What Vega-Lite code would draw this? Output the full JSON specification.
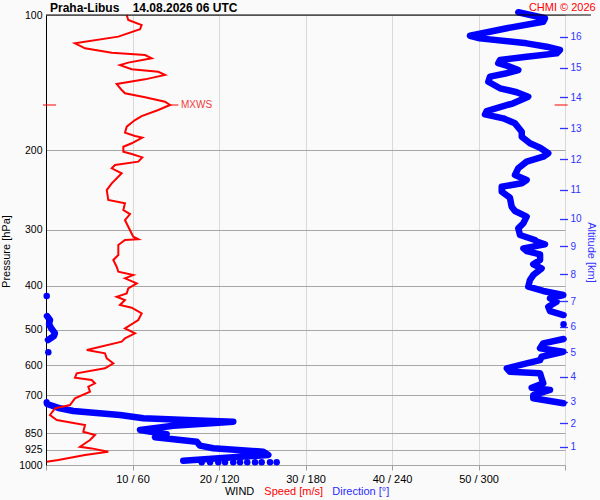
{
  "$schema": "https://vega.github.io/schema/vega-lite/v6.json",
  "width": 519,
  "height": 450,
  "autosize": {"type": "none"},
  "padding": {"left": 46, "top": 15, "right": 35, "bottom": 35},
  "background": "#fafafa",
  "config": {
    "view": {"stroke": null},
    "font": "Liberation Sans",
    "axis": {"labelFont": "Liberation Sans", "titleFont": "Liberation Sans"},
    "text": {"font": "Liberation Sans"}
  },
  "datasets": {
    "speed": [
      {"p": 100, "s": 9.33}, {"p": 102.6, "s": 9.51}, {"p": 105.3, "s": 11.06}, {"p": 107.6, "s": 10.87},
      {"p": 111.7, "s": 8.36}, {"p": 115.6, "s": 3.35}, {"p": 118.6, "s": 4.51}, {"p": 121.3, "s": 7.6},
      {"p": 122.7, "s": 11.45}, {"p": 124.8, "s": 12.22}, {"p": 127.6, "s": 9.51}, {"p": 129.2, "s": 8.55},
      {"p": 132, "s": 9.91}, {"p": 133.7, "s": 12.98}, {"p": 135.9, "s": 13.76}, {"p": 139, "s": 11.45},
      {"p": 142.3, "s": 8.17}, {"p": 146.8, "s": 8.75}, {"p": 149.3, "s": 9.13}, {"p": 152.4, "s": 11.45},
      {"p": 155.9, "s": 13.76}, {"p": 158.5, "s": 14.34}, {"p": 162.6, "s": 12.98}, {"p": 167.7, "s": 11.06},
      {"p": 171.2, "s": 10.29}, {"p": 177.1, "s": 9.33}, {"p": 182.6, "s": 9.13}, {"p": 185.7, "s": 10.29},
      {"p": 187.3, "s": 11.13}, {"p": 192.8, "s": 9.91}, {"p": 196.2, "s": 8.94}, {"p": 201.3, "s": 8.94},
      {"p": 203.7, "s": 9.91}, {"p": 207.2, "s": 11.13}, {"p": 211.8, "s": 10.67}, {"p": 215.4, "s": 7.98},
      {"p": 219.1, "s": 7.6}, {"p": 224.8, "s": 8.75}, {"p": 236.6, "s": 7.6}, {"p": 244.9, "s": 7.02},
      {"p": 257.7, "s": 7.2}, {"p": 262.1, "s": 9.13}, {"p": 271.3, "s": 8.94}, {"p": 276.9, "s": 9.71},
      {"p": 285.5, "s": 9.13}, {"p": 295.4, "s": 9.51}, {"p": 311, "s": 10.09}, {"p": 315.1, "s": 10.67},
      {"p": 316.2, "s": 9.13}, {"p": 324.4, "s": 8.36}, {"p": 341.5, "s": 8.36}, {"p": 350.4, "s": 7.78},
      {"p": 362.6, "s": 8.17}, {"p": 372, "s": 8.36}, {"p": 378.4, "s": 10.09}, {"p": 384.8, "s": 9.13},
      {"p": 394.8, "s": 10.49}, {"p": 405, "s": 9.51}, {"p": 415.5, "s": 9.33}, {"p": 422.7, "s": 8.17},
      {"p": 429.9, "s": 9.13}, {"p": 441.1, "s": 8.55}, {"p": 447.2, "s": 9.91}, {"p": 460.2, "s": 11.06},
      {"p": 476.3, "s": 10.67}, {"p": 496.9, "s": 9.13}, {"p": 509.8, "s": 10.29}, {"p": 523, "s": 9.13},
      {"p": 532.1, "s": 8.75}, {"p": 555.2, "s": 4.71}, {"p": 564.7, "s": 6.82}, {"p": 579.4, "s": 7.02},
      {"p": 594.3, "s": 7.78}, {"p": 609.7, "s": 6.82}, {"p": 625.5, "s": 3.55}, {"p": 639.8, "s": 3.35},
      {"p": 647.4, "s": 5.28}, {"p": 658.4, "s": 5.66}, {"p": 669.9, "s": 4.89}, {"p": 687.3, "s": 5.09},
      {"p": 710.9, "s": 3.35}, {"p": 735.6, "s": 2.77}, {"p": 748.2, "s": 1.04}, {"p": 774.3, "s": 0.46},
      {"p": 794.3, "s": 1.24}, {"p": 814.9, "s": 4.51}, {"p": 843.3, "s": 4.31}, {"p": 857.7, "s": 5.66},
      {"p": 880, "s": 5.09}, {"p": 910.9, "s": 3.93}, {"p": 918.5, "s": 5.28}, {"p": 934.2, "s": 7.2},
      {"p": 950.2, "s": 4.51}, {"p": 974.8, "s": 1.42}, {"p": 983.3, "s": 0.08}
    ],
    "dirline": [
      {"seg": "A", "p": 98.6, "dir": 327.6}, {"seg": "A", "p": 101.7, "dir": 346.1}, {"seg": "A", "p": 103.5, "dir": 344.9},
      {"seg": "A", "p": 107, "dir": 319.6}, {"seg": "A", "p": 111.2, "dir": 294.1}, {"seg": "A", "p": 112.7, "dir": 301},
      {"seg": "A", "p": 115.6, "dir": 333.4}, {"seg": "A", "p": 117.6, "dir": 347.3}, {"seg": "A", "p": 119.6, "dir": 356.5},
      {"seg": "A", "p": 121.7, "dir": 354.2}, {"seg": "A", "p": 123.8, "dir": 333.4}, {"seg": "A", "p": 125.9, "dir": 314.9},
      {"seg": "A", "p": 128, "dir": 313.7}, {"seg": "A", "p": 130.3, "dir": 321.8}, {"seg": "A", "p": 132.5, "dir": 327.6},
      {"seg": "A", "p": 134.7, "dir": 319.6}, {"seg": "A", "p": 137.1, "dir": 308}, {"seg": "A", "p": 140.7, "dir": 306.8},
      {"seg": "A", "p": 145.5, "dir": 314.9}, {"seg": "A", "p": 148.5, "dir": 326.5}, {"seg": "A", "p": 151.9, "dir": 334.5},
      {"seg": "A", "p": 157.1, "dir": 324.1}, {"seg": "A", "p": 163.5, "dir": 305.7}, {"seg": "A", "p": 166.3, "dir": 304.5},
      {"seg": "A", "p": 169.7, "dir": 317.2}, {"seg": "A", "p": 174.1, "dir": 325.3}, {"seg": "A", "p": 181.7, "dir": 330},
      {"seg": "A", "p": 186.4, "dir": 330}, {"seg": "A", "p": 192.8, "dir": 335.7}, {"seg": "A", "p": 197.2, "dir": 342.7},
      {"seg": "A", "p": 202.9, "dir": 348.4}, {"seg": "A", "p": 206.5, "dir": 344.9}, {"seg": "A", "p": 211.8, "dir": 333.4},
      {"seg": "A", "p": 219.1, "dir": 327.6}, {"seg": "A", "p": 226.7, "dir": 325.3}, {"seg": "A", "p": 232.6, "dir": 333.4},
      {"seg": "A", "p": 236.6, "dir": 330}, {"seg": "A", "p": 240.8, "dir": 316.1}, {"seg": "A", "p": 247, "dir": 316.1},
      {"seg": "A", "p": 254.7, "dir": 321.8}, {"seg": "A", "p": 266.7, "dir": 323}, {"seg": "A", "p": 272.6, "dir": 325.3},
      {"seg": "A", "p": 280.6, "dir": 333.4}, {"seg": "A", "p": 290.3, "dir": 331.1}, {"seg": "A", "p": 297.9, "dir": 327.6},
      {"seg": "A", "p": 308.2, "dir": 328.8}, {"seg": "A", "p": 316.2, "dir": 339.2}, {"seg": "A", "p": 319, "dir": 340.4},
      {"seg": "A", "p": 323.3, "dir": 346.1}, {"seg": "A", "p": 330, "dir": 331.1}, {"seg": "A", "p": 334.6, "dir": 333.4},
      {"seg": "A", "p": 340.3, "dir": 342.7}, {"seg": "A", "p": 350.4, "dir": 342.7}, {"seg": "A", "p": 358.1, "dir": 338},
      {"seg": "A", "p": 365.6, "dir": 343.8}, {"seg": "A", "p": 378.4, "dir": 338}, {"seg": "A", "p": 388.1, "dir": 335.7},
      {"seg": "A", "p": 401.6, "dir": 334.5}, {"seg": "A", "p": 410.5, "dir": 344.9}, {"seg": "A", "p": 419, "dir": 358.8},
      {"seg": "A", "p": 426.3, "dir": 349.6}, {"seg": "A", "p": 433.6, "dir": 354.2}, {"seg": "A", "p": 444.8, "dir": 348.4},
      {"seg": "A", "p": 454.8, "dir": 349.6}, {"seg": "A", "p": 464.2, "dir": 359},
      {"seg": "L", "p": 466.7, "dir": 0.7}, {"seg": "L", "p": 476.3, "dir": 2.8}, {"seg": "L", "p": 486.2, "dir": 2.1},
      {"seg": "L", "p": 496.1, "dir": 3.5}, {"seg": "L", "p": 509.2, "dir": 6.2}, {"seg": "L", "p": 516.9, "dir": 5.5},
      {"seg": "L", "p": 527.6, "dir": 1.4},
      {"seg": "B", "p": 524.8, "dir": 359}, {"seg": "B", "p": 536.5, "dir": 344.9}, {"seg": "B", "p": 550.4, "dir": 342.7},
      {"seg": "B", "p": 560.1, "dir": 358.8}, {"seg": "B", "p": 574.6, "dir": 343.8}, {"seg": "B", "p": 584.5, "dir": 342.7},
      {"seg": "B", "p": 594.3, "dir": 333.4}, {"seg": "B", "p": 609.7, "dir": 319.6}, {"seg": "B", "p": 620.4, "dir": 321.8},
      {"seg": "B", "p": 625.5, "dir": 342.7}, {"seg": "B", "p": 642, "dir": 343.8}, {"seg": "B", "p": 658.4, "dir": 344.9},
      {"seg": "B", "p": 673.4, "dir": 336.9}, {"seg": "B", "p": 681.3, "dir": 349.6}, {"seg": "B", "p": 699, "dir": 338},
      {"seg": "B", "p": 710.9, "dir": 338}, {"seg": "B", "p": 729.3, "dir": 359},
      {"seg": "C", "p": 725.6, "dir": 0.5}, {"seg": "C", "p": 731.8, "dir": 0.7}, {"seg": "C", "p": 748.2, "dir": 9.7},
      {"seg": "C", "p": 758.6, "dir": 18.9}, {"seg": "C", "p": 774.3, "dir": 51.3}, {"seg": "C", "p": 787.6, "dir": 67.5},
      {"seg": "C", "p": 794.3, "dir": 97.6}, {"seg": "C", "p": 801.2, "dir": 129.9}, {"seg": "C", "p": 817.8, "dir": 88.3},
      {"seg": "C", "p": 835.8, "dir": 65.2}, {"seg": "C", "p": 854.5, "dir": 83.7}, {"seg": "C", "p": 867.6, "dir": 75.6},
      {"seg": "C", "p": 887.4, "dir": 104.5}, {"seg": "C", "p": 905.8, "dir": 106.8}, {"seg": "C", "p": 918, "dir": 116},
      {"seg": "C", "p": 934.2, "dir": 150.7}, {"seg": "C", "p": 950.2, "dir": 154.2}, {"seg": "C", "p": 958.5, "dir": 134.6},
      {"seg": "C", "p": 978.1, "dir": 95.2}
    ],
    "dirpts": [
      {"p": 486.8, "dir": 359}, {"p": 421.2, "dir": 0.5}, {"p": 561.8, "dir": 1.6},
      {"p": 986.3, "dir": 108}, {"p": 986.3, "dir": 113.8}, {"p": 986.3, "dir": 119.5}, {"p": 986.3, "dir": 124.2},
      {"p": 986.3, "dir": 129.9}, {"p": 986.3, "dir": 134.6}, {"p": 986.3, "dir": 139.6}, {"p": 986.3, "dir": 145},
      {"p": 986.3, "dir": 149.6}, {"p": 986.3, "dir": 155.4}, {"p": 986.3, "dir": 160}
    ],
    "mxws": [{"p": 158.5, "s": 14.34}],
    "one": [{}]
  },
  "layer": [
    {
      "layer": [
        {
          "data": {"name": "dirline"},
          "mark": {"type": "line", "color": "#0000ff", "strokeWidth": 6.5, "strokeCap": "round", "strokeJoin": "round"},
          "encoding": {
            "x": {"field": "dir", "type": "quantitative", "scale": {"domain": [0, 360], "nice": false, "zero": false}, "axis": null},
            "y": {
              "field": "p", "type": "quantitative",
              "scale": {"type": "log", "domain": [100, 1000], "reverse": true, "nice": false, "zero": false},
              "axis": {
                "orient": "right",
                "values": [910.7, 807.7, 723.2, 636.6, 561.8, 492.9, 432.1, 376.9, 326.9, 283.3, 244.5, 209.4, 178.5, 152.5, 130.9, 111.7],
                "labelExpr": "indexof([910.7, 807.7, 723.2, 636.6, 561.8, 492.9, 432.1, 376.9, 326.9, 283.3, 244.5, 209.4, 178.5, 152.5, 130.9, 111.7], datum.value) + 1",
                "grid": false,
                "domain": false,
                "offset": -5.5,
                "tickSize": 8,
                "tickColor": "#3333ff",
                "tickWidth": 1.3,
                "labelColor": "#3333ff",
                "labelFontSize": 10,
                "labelPadding": 2.5,
                "title": "Altitude [km]",
                "titleColor": "#3333ff",
                "titleFontSize": 11,
                "titleFontWeight": "normal",
                "titlePadding": 4,
                "titleY": 237
              }
            },
            "detail": {"field": "seg", "type": "nominal"},
            "order": {"field": "p", "type": "quantitative"}
          }
        },
        {
          "data": {"name": "dirpts"},
          "mark": {"type": "circle", "color": "#0000ff", "opacity": 1, "size": 42},
          "encoding": {
            "x": {"field": "dir", "type": "quantitative"},
            "y": {"field": "p", "type": "quantitative"}
          }
        }
      ]
    },
    {
      "layer": [
        {
          "data": {"name": "speed"},
          "mark": {"type": "line", "color": "#ff0000", "strokeWidth": 2},
          "encoding": {
            "x": {
              "field": "s", "type": "quantitative",
              "scale": {"domain": [0, 60], "nice": false, "zero": false},
              "axis": {
                "orient": "bottom",
                "values": [0, 10, 20, 30, 40, 50, 60],
                "labelExpr": "datum.value == 0 || datum.value == 60 ? '' : datum.value + ' / ' + (datum.value * 6)",
                "grid": true,
                "gridColor": "#d9d9d9",
                "domain": false,
                "tickColor": "#a0a0a0",
                "tickSize": 5,
                "labelFontSize": 11,
                "labelColor": "#000000",
                "labelPadding": 3,
                "title": null
              }
            },
            "y": {
              "field": "p", "type": "quantitative",
              "scale": {"type": "log", "domain": [100, 1000], "reverse": true, "nice": false, "zero": false},
              "axis": {
                "orient": "left",
                "values": [100, 200, 300, 400, 500, 600, 700, 850, 925, 1000],
                "format": "d",
                "grid": true,
                "gridColor": "#a6a6a6",
                "ticks": false,
                "domain": true,
                "domainColor": "#000000",
                "labelFontSize": 10.5,
                "labelColor": "#000000",
                "labelPadding": 4,
                "title": "Pressure [hPa]",
                "titleColor": "#000000",
                "titleFontSize": 11,
                "titleFontWeight": "normal",
                "titlePadding": 7,
                "titleY": 236
              }
            },
            "order": {"field": "p", "type": "quantitative"}
          }
        },
        {
          "data": {"name": "one"},
          "mark": {"type": "rule", "color": "#000000", "strokeWidth": 1},
          "encoding": {"x": {"datum": 0}, "x2": {"datum": 63}, "y": {"datum": 100}}
        },
        {
          "data": {"name": "mxws"},
          "mark": {"type": "rule", "color": "#ff0000", "strokeWidth": 1},
          "encoding": {"x": {"field": "s", "type": "quantitative"}, "x2": {"datum": 15.3}, "y": {"field": "p", "type": "quantitative"}}
        },
        {
          "data": {"name": "mxws"},
          "mark": {"type": "rule", "color": "#ff0000", "strokeWidth": 1},
          "encoding": {"x": {"datum": -0.35}, "x2": {"datum": 1.16}, "y": {"field": "p", "type": "quantitative"}}
        },
        {
          "data": {"name": "mxws"},
          "mark": {"type": "rule", "color": "#ff0000", "strokeWidth": 1},
          "encoding": {"x": {"datum": 58.8}, "x2": {"datum": 60.3}, "y": {"field": "p", "type": "quantitative"}}
        },
        {
          "data": {"name": "mxws"},
          "mark": {"type": "text", "text": "MXWS", "color": "#f03c3c", "fontSize": 10, "align": "left", "baseline": "middle"},
          "encoding": {"x": {"datum": 15.6}, "y": {"field": "p", "type": "quantitative"}}
        },
        {
          "data": {"name": "one"},
          "mark": {"type": "text", "text": "Praha-Libus\u00a0\u00a0\u00a0\u00a014.08.2026 06 UTC", "color": "#000000", "fontSize": 12, "fontWeight": "bold", "align": "left", "baseline": "alphabetic"},
          "encoding": {"x": {"datum": 0.46}, "y": {"datum": 98.3}}
        },
        {
          "data": {"name": "one"},
          "mark": {"type": "text", "text": "CHMI © 2026", "color": "#ff0000", "fontSize": 11, "align": "right", "baseline": "alphabetic"},
          "encoding": {"x": {"datum": 63.55}, "y": {"datum": 97.97}}
        },
        {
          "data": {"name": "one"},
          "mark": {"type": "text", "text": "WIND", "color": "#000000", "fontSize": 11, "align": "left", "baseline": "alphabetic"},
          "encoding": {"x": {"datum": 20.69}, "y": {"datum": 1163}}
        },
        {
          "data": {"name": "one"},
          "mark": {"type": "text", "text": "Speed [m/s]", "color": "#ff0000", "fontSize": 11, "align": "left", "baseline": "alphabetic"},
          "encoding": {"x": {"datum": 25.24}, "y": {"datum": 1163}}
        },
        {
          "data": {"name": "one"},
          "mark": {"type": "text", "text": "Direction [°]", "color": "#2a2aff", "fontSize": 11, "align": "left", "baseline": "alphabetic"},
          "encoding": {"x": {"datum": 33.1}, "y": {"datum": 1163}}
        }
      ]
    }
  ],
  "resolve": {"scale": {"x": "independent", "y": "independent"}, "axis": {"x": "independent", "y": "independent"}}
}
